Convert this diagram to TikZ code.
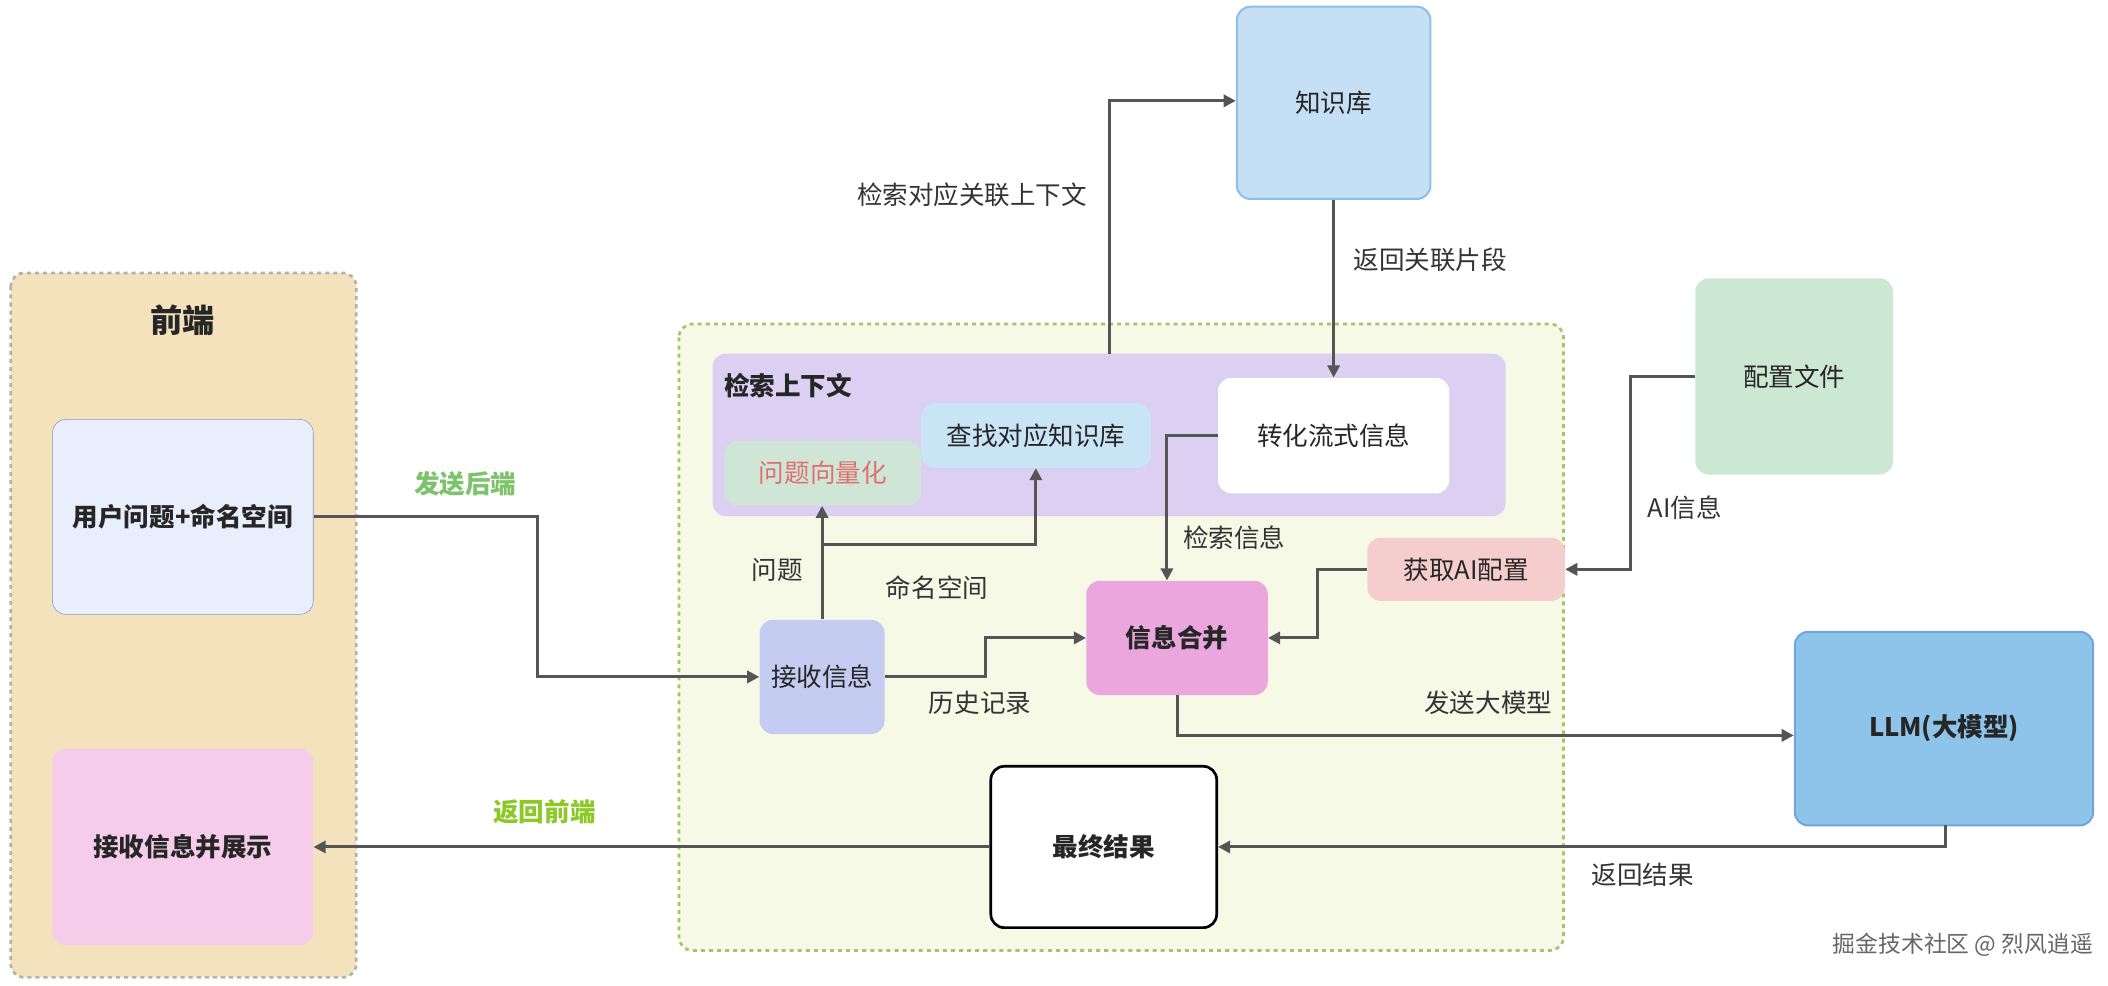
\documentclass[tikz,border=0pt]{standalone}
\usepackage{fontspec}
\setmainfont{Noto Sans CJK SC}
\usetikzlibrary{arrows.meta}
\definecolor{arr}{HTML}{555555}
\definecolor{grn}{HTML}{7DC36B}
\tikzset{
 x=1pt,y=-1pt,
 every node/.style={font=\fontsize{19}{22}\selectfont,text=black!85},
 box/.style={rounded corners=10pt,inner sep=0pt},
 conn/.style={draw=arr,line width=2.2pt,-{Triangle[length=9pt,width=9pt]}},
 lbl/.style={font=\fontsize{19}{22}\selectfont,text=black!80},
 bold/.style={font=\fontsize{19}{22}\selectfont\bfseries}
}
\begin{document}
\begin{tikzpicture}
\useasboundingbox (0,0) rectangle (1568,733);
% containers
\draw[box,fill={rgb,255:red,243;green,226;blue,188},draw=black!30,dashed,line width=2pt] (8,203) rectangle (265,727);
\node[font=\fontsize{24}{28}\selectfont\bfseries] (fe) at (136,238) {前端};
\draw[box,fill={rgb,255:red,246;green,249;blue,230},draw={rgb,255:red,160;green,200;blue,100},dashed,line width=2pt] (505,241) rectangle (1163,707);
\draw[box,fill={rgb,255:red,220;green,208;blue,242},draw=none] (530,263) rectangle (1120,384);
\node[bold,anchor=west] (ctx) at (535,287) {检索上下文};
% boxes
\node[box,draw={rgb,255:red,143;green,143;blue,208},fill={rgb,255:red,232;green,238;blue,251},minimum width=194pt,minimum height=145pt,bold] (user) at (136,384.5) {用户问题+命名空间};
\node[box,fill={rgb,255:red,245;green,204;blue,234},minimum width=194pt,minimum height=146pt,bold] (show) at (136,630) {接收信息并展示};
\node[box,fill={rgb,255:red,207;green,230;blue,214},minimum width=146pt,minimum height=48pt,text={rgb,255:red,224;green,112;blue,112}] (vec) at (612,352) {问题向量化};
\node[box,fill={rgb,255:red,201;green,228;blue,245},minimum width=171pt,minimum height=48pt] (find) at (770.5,324) {查找对应知识库};
\node[box,fill=white,minimum width=172pt,minimum height=86pt] (conv) at (992,324) {转化流式信息};
\node[box,fill={rgb,255:red,197;green,224;blue,245},draw={rgb,255:red,141;green,192;blue,232},line width=1.5pt,minimum width=144pt,minimum height=143pt] (kb) at (992,76.5) {知识库};
\node[box,fill={rgb,255:red,204;green,232;blue,210},minimum width=147pt,minimum height=146pt] (cfg) at (1334.5,280) {配置文件};
\node[box,fill={rgb,255:red,245;green,205;blue,205},minimum width=147pt,minimum height=47pt] (ai) at (1090.5,423.5) {获取AI配置};
\node[box,fill={rgb,255:red,235;green,166;blue,221},minimum width=135pt,minimum height=85pt,bold] (merge) at (875.5,474.5) {信息合并};
\node[box,fill={rgb,255:red,197;green,204;blue,242},minimum width=93pt,minimum height=85pt] (recv) at (611.5,503.5) {接收信息};
\node[box,fill={rgb,255:red,142;green,196;blue,234},draw={rgb,255:red,111;green,168;blue,216},line width=1.5pt,minimum width=222pt,minimum height=144pt,bold] (llm) at (1446,542) {LLM(大模型)};
\node[box,fill=white,draw=black,line width=2pt,minimum width=168pt,minimum height=120pt,bold] (final) at (821,630) {最终结果};
% connectors
\draw[conn] (user.east) -- (400,384.5) -- (400,503.5) -- (recv.west);
\draw[conn] (recv.north) -- (vec.south -| recv.north);
\draw[conn] (611.5,405) -| (find.south);
\draw[conn] (recv.east) -- (733,503.5) -- (733,474.5) -- (merge.west);
\draw[conn] (825,263) -- (825,75) -- (kb.west |- 0,75);
\draw[conn] (kb.south) -- (conv.north);
\draw[conn] (conv.west) -- (868,324) -- (merge.north -| 868,0);
\draw[conn] (cfg.west) -- (1213,280) -- (1213,423.5) -- (ai.east);
\draw[conn] (ai.west) -- (980,423.5) -- (980,474.5) -- (merge.east);
\draw[conn] (876,517) -- (876,547) -- (llm.west |- 0,547);
\draw[conn] (1447,614) -- (1447,630) -- (final.east);
\draw[conn] (final.west) -- (show.east);
% labels
\node[lbl] (l1) at (578,424) {问题};
\node[lbl] (l2) at (697,437) {命名空间};
\node[lbl] (l3) at (729,523) {历史记录};
\node[lbl] (l4) at (723,145) {检索对应关联上下文};
\node[lbl] (l5) at (1064,193) {返回关联片段};
\node[lbl] (l6) at (918,400) {检索信息};
\node[lbl] (l7) at (1253,378) {AI信息};
\node[lbl] (l8) at (1107,523) {发送大模型};
\node[lbl] (l9) at (1222,651) {返回结果};
\node[bold,text=grn] (l10) at (346,360) {发送后端};
\node[bold,text={rgb,255:red,140;green,200;blue,40}] (l11) at (405,604) {返回前端};
\node[font=\fontsize{17}{20}\selectfont,text=black!60] (wm) at (1460,703) {掘金技术社区 @ 烈风逍遥};
\end{tikzpicture}
\end{document}
